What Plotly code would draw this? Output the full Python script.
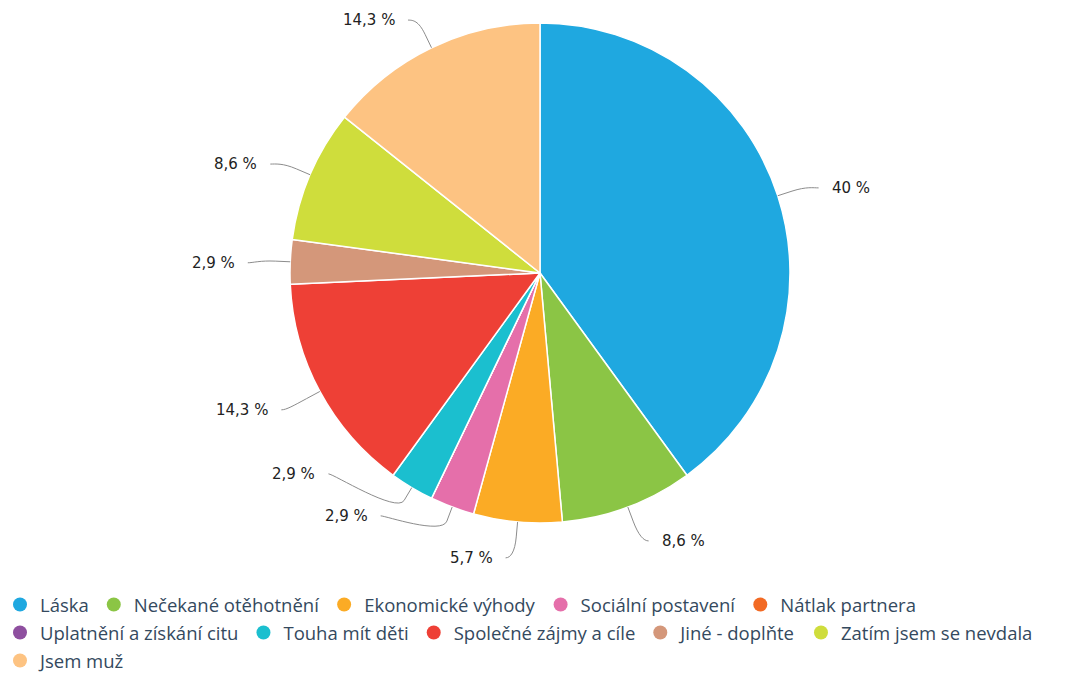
import math
import plotly.graph_objects as go

# ---------------- data ----------------
categories = [
    "Láska", "Nečekané otěhotnění", "Ekonomické výhody", "Sociální postavení",
    "Nátlak partnera", "Uplatnění a získání citu", "Touha mít děti",
    "Společné zájmy a cíle", "Jiné - doplňte", "Zatím jsem se nevdala", "Jsem muž",
]
counts = [14, 3, 2, 1, 0, 0, 1, 5, 1, 3, 5]
colors = [
    "#1fa8e0", "#8bc545", "#fbab25", "#e56faa", "#f26a24", "#8e4f9f",
    "#1bbfcf", "#ee4036", "#d4977a", "#cfdd3c", "#fdc382",
]
legend_rows = [1, 1, 1, 1, 1, 2, 2, 2, 2, 2, 3]   # legend row of each category

# ---------------- geometry (pixels) ----------------
W, H = 1071, 675
CX, CY, R = 540, 273, 250
LABEL_DIST = 33.5    # label circle distance from the pie edge
LABEL_DY = 2.5       # vertical offset of label centres
BREAK = 15           # connector bend distance
CONN_PAD = 9         # connector end offset from label circle
TEXT_PAD = 20        # text edge offset from label circle
GAP = 42             # minimum vertical gap between labels on one side


def px(x):
    return x / W


def py(y):
    return 1 - y / H


def fmt_pct(p):
    s = f"{p:.1f}"
    if s.endswith(".0"):
        s = s[:-2]
    return s.replace(".", ",") + " %"


total = sum(counts)
RL = R + LABEL_DIST
items = []
cum = 0
for i, v in enumerate(counts):
    if v > 0:
        mid = (cum + v / 2) / total * 2 * math.pi
        ux, uy = math.sin(mid), -math.cos(mid)
        items.append(dict(i=i, ux=ux, uy=uy, left=ux < 0,
                          y=CY + RL * uy,
                          text=fmt_pct(100 * v / total)))
    cum += v

for side in (True, False):
    grp = sorted([d for d in items if d["left"] == side], key=lambda d: -d["y"])
    prev = None
    for d in grp:
        d["y"] = min(d["y"], CY + RL)
        if prev is not None:
            d["y"] = min(d["y"], prev - GAP)
        prev = d["y"]
    grp = sorted(grp, key=lambda d: d["y"])
    prev = None
    for d in grp:
        d["y"] = max(d["y"], CY - RL)
        if prev is not None:
            d["y"] = max(d["y"], prev + GAP)
        prev = d["y"]

shapes = []
annotations = []
for d in items:
    sgn = -1 if d["left"] else 1
    a = math.asin(max(-1, min(1, (d["y"] - CY) / RL)))
    xc = CX + sgn * math.cos(a) * RL
    lx, ly = xc + sgn * CONN_PAD, d["y"] + LABEL_DY
    tx, ty = CX + R * d["ux"], CY + R * d["uy"]
    bx, by = CX + (R + BREAK) * d["ux"], CY + (R + BREAK) * d["uy"]
    c2x, c2y = 2 * bx - tx, 2 * by - ty
    c1x = lx - sgn * 5
    path = (f"M {px(lx)},{py(ly)} C {px(c1x)},{py(ly)} {px(c2x)},{py(c2y)} "
            f"{px(bx)},{py(by)} L {px(tx)},{py(ty)}")
    shapes.append(dict(type="path", path=path, xref="paper", yref="paper",
                       line=dict(color="#8c8c8c", width=1), layer="above"))
    annotations.append(dict(
        x=px(xc + sgn * TEXT_PAD), y=py(ly), xref="paper", yref="paper",
        text=d["text"], showarrow=False,
        xanchor="right" if d["left"] else "left", yanchor="middle",
        font=dict(family="DejaVu Sans", size=15, color="#222222"),
    ))

fig = go.Figure()
fig.add_trace(go.Pie(
    labels=categories, values=counts, sort=False, direction="clockwise",
    rotation=0, textinfo="none", hoverinfo="label+percent",
    marker=dict(colors=colors, line=dict(color="white", width=1.5)),
    showlegend=False,
    domain=dict(x=[px(CX - R), px(CX + R)], y=[py(CY + R), py(CY - R)]),
))

legend_names = {1: "legend", 2: "legend2", 3: "legend3"}
for name, col, row in zip(categories, colors, legend_rows):
    fig.add_trace(go.Scatter(
        x=[None], y=[None], mode="markers", name=name,
        marker=dict(symbol="circle", size=14, color=col),
        showlegend=True, hoverinfo="skip", legend=legend_names[row],
    ))

LEG_TOP = 586
ROW_H = 28


def legend_cfg(row):
    return dict(
        orientation="h", x=0, y=py(LEG_TOP + (row - 1) * ROW_H),
        xanchor="left", yanchor="top",
        font=dict(family="Open Sans", size=18.5, color="#34495e"),
        bgcolor="rgba(0,0,0,0)", traceorder="normal",
    )


fig.update_layout(
    width=W, height=H, autosize=False,
    margin=dict(l=0, r=0, t=0, b=0, autoexpand=False),
    paper_bgcolor="white", plot_bgcolor="white",
    xaxis=dict(visible=False), yaxis=dict(visible=False),
    shapes=shapes, annotations=annotations,
    legend=legend_cfg(1), legend2=legend_cfg(2), legend3=legend_cfg(3),
)

fig.write_html("out.html", config={"displayModeBar": False},
               post_script="document.body.style.margin='0';")
